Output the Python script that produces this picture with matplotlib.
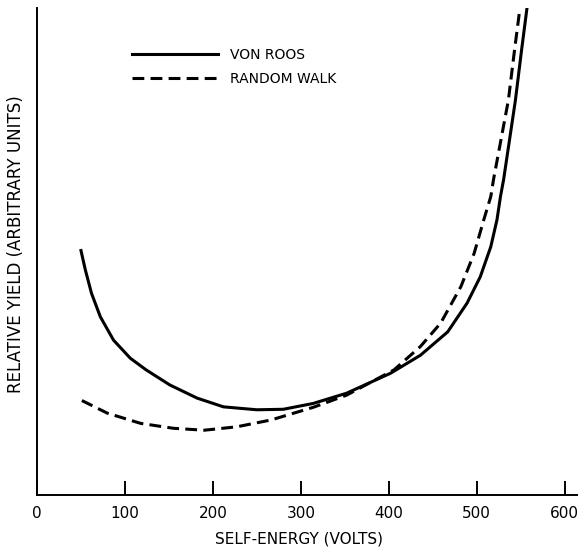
import matplotlib
matplotlib.use("Agg")
import matplotlib.pyplot as plt

# values (y in arbitrary units, 0..100 = axis height)
von_roos_x = [50, 55, 62, 72, 87, 106, 124, 151, 182, 212, 250, 280, 314,
              352, 402, 436, 467, 489, 504, 516, 523, 527, 530.5, 544, 551, 557]
von_roos_y = [50.2, 46.2, 41.4, 36.6, 31.8, 28.1, 25.7, 22.6, 19.9, 18.1, 17.5,
              17.6, 18.8, 20.9, 25.0, 28.7, 33.5, 39.4, 44.8, 51.0, 56.5, 61.3,
              64.7, 81.1, 91.4, 99.8]

walk_x = [51, 80, 118, 155, 190, 227, 266, 314, 352, 406, 436, 459, 482,
          497, 508, 516, 519, 536, 543, 549]
walk_y = [19.4, 16.8, 14.7, 13.7, 13.3, 14.0, 15.4, 18.0, 20.5, 25.7, 30.5,
          35.3, 42.8, 49.6, 56.5, 61.3, 64.7, 81.1, 91.4, 99.8]

x_ticks = [0, 100, 200, 300, 400, 500, 600]

plt.rcParams['font.family'] = ['DejaVu Sans']
plt.rcParams['lines.scale_dashes'] = False

fig = plt.figure(figsize=(5.82, 5.5), dpi=100)
ax = fig.add_axes([37 / 582, 1 - 495 / 550, 540 / 582, 487 / 550])

ax.plot(von_roos_x, von_roos_y, color='black', lw=2.2, label='VON ROOS')
ax.plot(walk_x, walk_y, color='black', lw=2.2, dashes=(8.5, 4.5),
        label='RANDOM WALK')

ax.set_xlim(0, 614)
ax.set_ylim(0, 100)
ax.set_xticks(x_ticks)
ax.set_yticks([])
ax.tick_params(axis='x', direction='in', length=10, width=1.4, pad=8,
               labelsize=11)

for side in ['top', 'right']:
    ax.spines[side].set_visible(False)
for side in ['left', 'bottom']:
    ax.spines[side].set_linewidth(1.4)

ax.set_xlabel('SELF-ENERGY (VOLTS)', fontsize=11)
ax.xaxis.set_label_coords(0.485, -0.075)
ax.set_ylabel('RELATIVE YIELD (ARBITRARY UNITS)', fontsize=12)
ax.yaxis.set_label_coords(-0.022, 0.515)

ax.legend(loc='upper left', bbox_to_anchor=(0.176, 0.918), frameon=False,
          fontsize=10, handlelength=6.2, handletextpad=0.85,
          labelspacing=0.7, borderpad=0, borderaxespad=0)

fig.savefig('out.png', dpi=100)
